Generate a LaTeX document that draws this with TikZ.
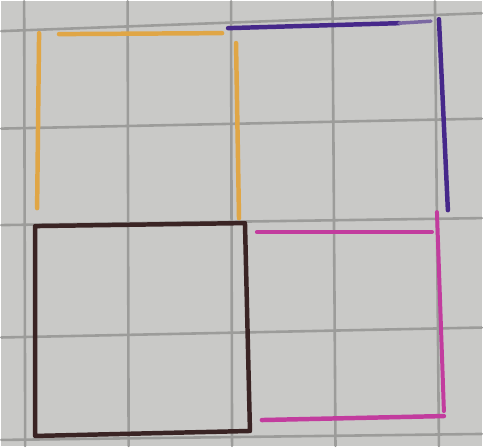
\documentclass[tikz,border=0pt]{standalone}
\usepackage{tikz}

\definecolor{PaperGray}{HTML}{C9C9C7}
\definecolor{GridGray}{HTML}{9C9C9A}
\definecolor{PenOrange}{HTML}{E0A646}
\definecolor{PenPurple}{HTML}{46288A}
\definecolor{PenBrown}{HTML}{3A2424}
\definecolor{PenMagenta}{HTML}{C23C9E}

\begin{document}
\begin{tikzpicture}[x=1pt,y=-1pt,line cap=round,line join=round]
    \fill[PaperGray] (0,0) rectangle (483,447);
    % grid of the paper
    \foreach \gx/\gy in {23/24,127/128,231/232,333/336,436/440} {
      \draw[GridGray,line width=2.6pt] (\gx,0) -- (\gy,447);
    }
    \foreach \hy/\hz in {30/12,128/118,225/218,338/328,441/435} {
      \draw[GridGray,line width=2.6pt] (0,\hy) -- (483,\hz);
    }
    % orange strokes
    \draw[PenOrange,line width=4.5pt] (58,33) -- (222,32);
    \draw[PenOrange,line width=4.5pt] (38,32) -- (36,208);
    \draw[PenOrange,line width=4.5pt] (236,42) -- (239,218);
    % purple strokes
    \draw[PenPurple,line width=4.5pt] (228,27) -- (400,22);
    \draw[PenPurple!60!PaperGray,line width=3.5pt] (400,22) -- (432,20);
    \draw[PenPurple,line width=4.5pt] (440,18) -- (449,210);
    % brown square
    \draw[PenBrown,line width=4.5pt] (34,226) -- (245,223) -- (250,432) -- (34,437) -- cycle;
    % magenta strokes
    \draw[PenMagenta,line width=4pt] (257,232) -- (433,232);
    \draw[PenMagenta,line width=4pt] (438,212) -- (445,412);
    \draw[PenMagenta,line width=4.5pt] (262,421) -- (445,417);
\end{tikzpicture}
\end{document}
